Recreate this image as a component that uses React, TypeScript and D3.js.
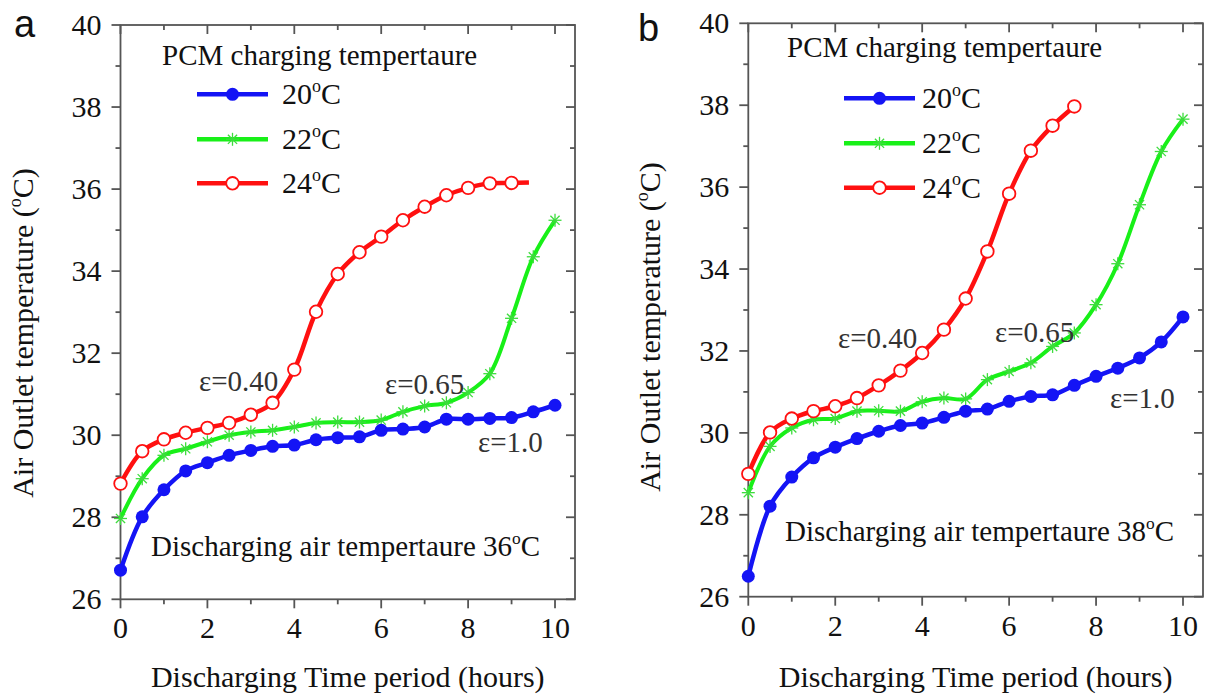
import React from 'react';
import * as d3 from 'd3';

// ---------- data ----------
const hours = [0, 0.5, 1, 1.5, 2, 2.5, 3, 3.5, 4, 4.5, 5, 5.5, 6, 6.5, 7, 7.5, 8, 8.5, 9, 9.5, 10];

// Panel a (discharging air 36°C)
const blueA = [26.71, 28.01, 28.67, 29.13, 29.33, 29.51, 29.63, 29.73, 29.76, 29.89, 29.94, 29.96, 30.12, 30.15, 30.2, 30.39, 30.39, 30.41, 30.43, 30.57, 30.73];
const greenA = [27.97, 28.94, 29.51, 29.67, 29.84, 30.0, 30.08, 30.12, 30.2, 30.3, 30.32, 30.32, 30.37, 30.57, 30.71, 30.79, 31.04, 31.5, 32.85, 34.35, 35.24];
const redA = [28.82, 29.61, 29.9, 30.06, 30.18, 30.3, 30.5, 30.79, 31.6, 33.01, 33.93, 34.46, 34.84, 35.24, 35.57, 35.85, 36.03, 36.14, 36.15];
const redATailHour = 9.4;
const redATailValue = 36.16;

// Panel b (discharging air 38°C)
const blueB = [26.5, 28.21, 28.92, 29.39, 29.65, 29.86, 30.04, 30.18, 30.24, 30.38, 30.53, 30.58, 30.77, 30.89, 30.93, 31.16, 31.38, 31.58, 31.83, 32.22, 32.83];
const greenB = [28.54, 29.67, 30.12, 30.32, 30.35, 30.53, 30.54, 30.53, 30.76, 30.85, 30.83, 31.3, 31.5, 31.71, 32.11, 32.44, 33.13, 34.13, 35.57, 36.87, 37.66];
const redB = [29.0, 30.01, 30.35, 30.53, 30.65, 30.85, 31.16, 31.52, 31.95, 32.52, 33.28, 34.43, 35.84, 36.89, 37.5, 37.97];

const xMajorTicks = [0, 2, 4, 6, 8, 10];
const xMinorTicks = [1, 3, 5, 7, 9];
const yMajorTicks = [26, 28, 30, 32, 34, 36, 38, 40];
const yMinorTicks = [27, 29, 31, 33, 35, 37, 39];

const legendTitle = 'PCM charging tempertaure';
const legendLabels = ['20', '22', '24'];
const xTitle = 'Discharging Time period (hours)';
const yTitle = 'Air Outlet temperature (';

// ---------- styles ----------
const SERIF = "'Liberation Serif', 'DejaVu Serif', serif";
const SANS = "'Liberation Sans', Arial, sans-serif";
const BLUE = '#1414f5';
const GREEN = '#18f018';
const RED = '#ff1010';
const AXIS = '#555';
const TEXT = '#111';

type Pt = [number, number];

interface PanelLayout {
  letter: string;
  letterX: number;
  letterY: number;
  left: number;
  right: number;
  top: number;
  bottom: number;
  yTitleX: number;
  yTitleY: number;
  xTitleY: number;
  legendTitleX: number;
  legendTitleY: number;
  legendLineX0: number;
  legendLineX1: number;
  legendLabelX: number;
  legendRows: number[];
  ann: { text: string; x: number; y: number }[];
  discharge: { temp: string; x: number; y: number };
}

const serifStyle = (size: number): React.CSSProperties => ({ fontFamily: SERIF, fontSize: size + 'px' });

const Deg: React.FC<{ pre: string; size: number }> = ({ pre, size }) => (
  <>
    {pre}
    <tspan style={{ fontSize: size * 0.6 + 'px' }} dy={-size * 0.42}>o</tspan>
    <tspan dy={size * 0.42}>C</tspan>
  </>
);

const Asterisk: React.FC<{ x: number; y: number; r: number }> = ({ x, y, r }) => {
  const d = r * 0.7071;
  return (
    <g stroke="#3ddc3d" strokeWidth={1.3}>
      <line x1={x - r} y1={y} x2={x + r} y2={y} />
      <line x1={x} y1={y - r} x2={x} y2={y + r} />
      <line x1={x - d} y1={y - d} x2={x + d} y2={y + d} />
      <line x1={x - d} y1={y + d} x2={x + d} y2={y - d} />
    </g>
  );
};

const Panel: React.FC<{
  L: PanelLayout;
  blue: number[];
  green: number[];
  red: number[];
  redTail?: Pt;
}> = ({ L, blue, green, red, redTail }) => {
  const x = d3.scaleLinear().domain([0, 10.46]).range([L.left, L.right]);
  const y = d3.scaleLinear().domain([26, 40]).range([L.bottom, L.top]);
  const line = d3
    .line<Pt>()
    .x((d) => x(d[0]))
    .y((d) => y(d[1]))
    .curve(d3.curveCatmullRom.alpha(0.5));

  const bluePts: Pt[] = blue.map((v, i) => [hours[i], v]);
  const greenPts: Pt[] = green.map((v, i) => [hours[i], v]);
  const redPts: Pt[] = red.map((v, i) => [hours[i], v]);
  const redLine: Pt[] = redTail ? [...redPts, redTail] : redPts;

  const MAJ = 9;
  const MIN = 5;
  const fs = 30;

  return (
    <g>
      <text x={L.letterX} y={L.letterY} style={{ fontFamily: SANS, fontSize: '38px' }} fill={TEXT}>
        {L.letter}
      </text>

      <rect
        x={L.left}
        y={L.top}
        width={L.right - L.left}
        height={L.bottom - L.top}
        fill="none"
        stroke={AXIS}
        strokeWidth={1.8}
      />

      {xMajorTicks.map((t) => (
        <g key={'xM' + t} stroke={AXIS} strokeWidth={1.8}>
          <line x1={x(t)} x2={x(t)} y1={L.bottom} y2={L.bottom + MAJ} />
          <line x1={x(t)} x2={x(t)} y1={L.top} y2={L.top + MAJ} />
        </g>
      ))}
      {xMinorTicks.map((t) => (
        <g key={'xm' + t} stroke={AXIS} strokeWidth={1.8}>
          <line x1={x(t)} x2={x(t)} y1={L.bottom} y2={L.bottom + MIN} />
          <line x1={x(t)} x2={x(t)} y1={L.top} y2={L.top + MIN} />
        </g>
      ))}
      {yMajorTicks.map((t) => (
        <g key={'yM' + t} stroke={AXIS} strokeWidth={1.8}>
          <line x1={L.left - MAJ} x2={L.left} y1={y(t)} y2={y(t)} />
          <line x1={L.right - MAJ} x2={L.right} y1={y(t)} y2={y(t)} />
        </g>
      ))}
      {yMinorTicks.map((t) => (
        <g key={'ym' + t} stroke={AXIS} strokeWidth={1.8}>
          <line x1={L.left - MIN} x2={L.left} y1={y(t)} y2={y(t)} />
          <line x1={L.right - MIN} x2={L.right} y1={y(t)} y2={y(t)} />
        </g>
      ))}

      {xMajorTicks.map((t) => (
        <text key={'xl' + t} x={x(t)} y={L.bottom + 39} textAnchor="middle" style={serifStyle(fs)} fill={TEXT}>
          {t}
        </text>
      ))}
      {yMajorTicks.map((t) => (
        <text key={'yl' + t} x={L.left - 19} y={y(t) + 10} textAnchor="end" style={serifStyle(fs)} fill={TEXT}>
          {t}
        </text>
      ))}

      <text x={(L.left + L.right) / 2} y={L.xTitleY} textAnchor="middle" style={serifStyle(30)} fill={TEXT}>
        {xTitle}
      </text>
      <text
        transform={`translate(${L.yTitleX},${L.yTitleY}) rotate(-90)`}
        textAnchor="middle"
        style={serifStyle(30)}
        fill={TEXT}
      >
        {yTitle}
        <tspan style={{ fontSize: '18px' }} dy={-12}>o</tspan>
        <tspan dy={12}>C)</tspan>
      </text>

      <path d={line(greenPts) || ''} fill="none" stroke={GREEN} strokeWidth={4} strokeLinejoin="round" />
      <path d={line(bluePts) || ''} fill="none" stroke={BLUE} strokeWidth={4.5} strokeLinejoin="round" />
      <path d={line(redLine) || ''} fill="none" stroke={RED} strokeWidth={4.5} strokeLinejoin="round" />

      {greenPts.map((d, i) => (
        <Asterisk key={'g' + i} x={x(d[0])} y={y(d[1])} r={6.5} />
      ))}
      {bluePts.map((d, i) => (
        <circle key={'b' + i} cx={x(d[0])} cy={y(d[1])} r={6.5} fill={BLUE} />
      ))}
      {redPts.map((d, i) => (
        <circle key={'r' + i} cx={x(d[0])} cy={y(d[1])} r={6.3} fill="#fff" stroke={RED} strokeWidth={1.8} />
      ))}

      <text x={L.legendTitleX} y={L.legendTitleY} style={serifStyle(29)} fill={TEXT}>
        {legendTitle}
      </text>
      {legendLabels.map((lab, i) => {
        const ry = L.legendRows[i];
        const cx = (L.legendLineX0 + L.legendLineX1) / 2;
        const color = [BLUE, GREEN, RED][i];
        return (
          <g key={'lg' + i}>
            <line x1={L.legendLineX0} x2={L.legendLineX1} y1={ry} y2={ry} stroke={color} strokeWidth={4.5} />
            {i === 0 && <circle cx={cx} cy={ry} r={6.5} fill={BLUE} />}
            {i === 1 && <Asterisk x={cx} y={ry} r={6.5} />}
            {i === 2 && <circle cx={cx} cy={ry} r={6.3} fill="#fff" stroke={RED} strokeWidth={1.8} />}
            <text x={L.legendLabelX} y={ry + 10} style={serifStyle(30)} fill={TEXT}>
              <Deg pre={lab} size={30} />
            </text>
          </g>
        );
      })}

      {L.ann.map((a, i) => (
        <text key={'an' + i} x={a.x} y={a.y} style={serifStyle(29)} fill="#333">
          {a.text}
        </text>
      ))}
      <text x={L.discharge.x} y={L.discharge.y} style={serifStyle(29)} fill={TEXT}>
        <Deg pre={'Discharging air tempertaure ' + L.discharge.temp} size={29} />
      </text>
    </g>
  );
};

const layoutA: PanelLayout = {
  letter: 'a',
  letterX: 14,
  letterY: 37,
  left: 120.5,
  right: 575,
  top: 25,
  bottom: 599.3,
  yTitleX: 33,
  yTitleY: 333,
  xTitleY: 687,
  legendTitleX: 162,
  legendTitleY: 65,
  legendLineX0: 197,
  legendLineX1: 268,
  legendLabelX: 282,
  legendRows: [94.3, 139.3, 183.3],
  ann: [
    { text: 'ε=0.40', x: 199, y: 391 },
    { text: 'ε=0.65', x: 385, y: 394 },
    { text: 'ε=1.0', x: 478, y: 452 },
  ],
  discharge: { temp: '36', x: 151, y: 556 },
};

const layoutB: PanelLayout = {
  letter: 'b',
  letterX: 638,
  letterY: 41,
  left: 748.3,
  right: 1203,
  top: 23.3,
  bottom: 596.7,
  yTitleX: 660,
  yTitleY: 327,
  xTitleY: 687,
  legendTitleX: 787,
  legendTitleY: 57,
  legendLineX0: 844,
  legendLineX1: 915,
  legendLabelX: 922,
  legendRows: [98.3, 143.3, 187.7],
  ann: [
    { text: 'ε=0.40', x: 838, y: 348 },
    { text: 'ε=0.65', x: 995, y: 342 },
    { text: 'ε=1.0', x: 1110, y: 408 },
  ],
  discharge: { temp: '38', x: 785, y: 541 },
};

export default function App() {
  return (
    <svg
      width={1207}
      height={698}
      viewBox="0 0 1207 698"
      style={{ position: 'absolute', left: 0, top: 0, background: '#fff' }}
    >
      <rect x={0} y={0} width={1207} height={698} fill="#fff" />
      <Panel L={layoutA} blue={blueA} green={greenA} red={redA} redTail={[redATailHour, redATailValue]} />
      <Panel L={layoutB} blue={blueB} green={greenB} red={redB} />
    </svg>
  );
}
